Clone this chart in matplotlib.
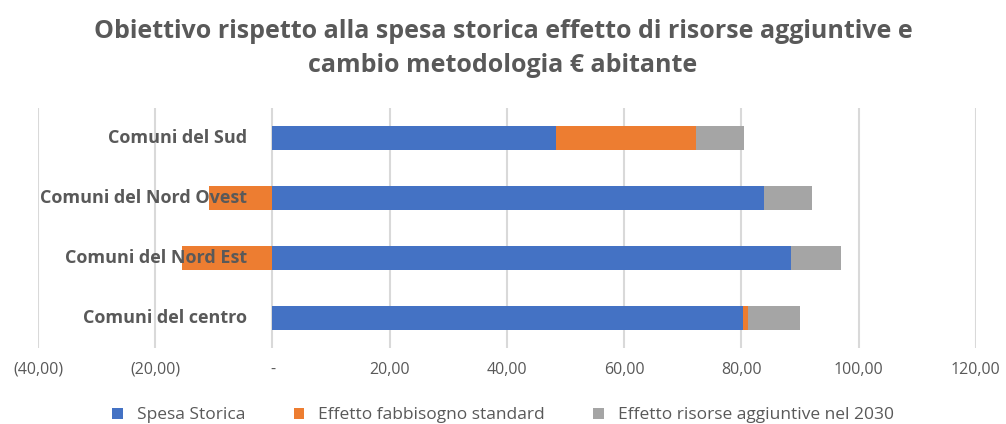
import numpy as np
import matplotlib.pyplot as plt
from matplotlib.ticker import FuncFormatter, MultipleLocator
from matplotlib.transforms import offset_copy

categories = ['Comuni del Sud', 'Comuni del Nord Ovest', 'Comuni del Nord Est', 'Comuni del centro']
spesa_storica = [48.4, 83.8, 88.5, 80.2]
effetto_fabbisogno = [23.9, -10.9, -15.5, 0.9]
effetto_risorse = [8.2, 8.2, 8.5, 8.9]

series_names = ['Spesa Storica', 'Effetto fabbisogno standard', 'Effetto risorse aggiuntive nel 2030']
colors = ['#4472C4', '#ED7D31', '#A5A5A5']
text_col = '#595959'

plt.rcParams['font.family'] = ['Open Sans', 'DejaVu Sans']

fig = plt.figure(figsize=(10.06, 4.24), dpi=100)
ax = fig.add_axes([0.0378, 0.179, 0.9322, 0.566])

y = np.arange(len(categories))
pos_base = np.zeros(len(categories))
neg_base = np.zeros(len(categories))
for vals, name, col in zip([spesa_storica, effetto_fabbisogno, effetto_risorse], series_names, colors):
    vals = np.array(vals)
    left = np.where(vals >= 0, pos_base, neg_base)
    ax.barh(y, vals, left=left, height=0.4, color=col, label=name, zorder=2)
    pos_base = pos_base + np.clip(vals, 0, None)
    neg_base = neg_base + np.clip(vals, None, 0)

ax.set_xlim(-40, 120)
ax.set_ylim(len(categories) - 0.5, -0.5)
ax.xaxis.set_major_locator(MultipleLocator(20))

def acc_fmt(v, pos):
    if abs(v) < 1e-9:
        return '-'
    s = f'{abs(v):.2f}'.replace('.', ',')
    return f'({s})' if v < 0 else s

ax.xaxis.set_major_formatter(FuncFormatter(acc_fmt))
ax.grid(axis='x', color='#D9D9D9', linewidth=1.5)
ax.set_axisbelow(True)
ax.tick_params(axis='x', length=0, pad=10, labelsize=11.5, labelcolor=text_col)
ax.set_yticks([])
for s in ax.spines.values():
    s.set_visible(False)

# category labels sit left of the zero line, over the negative bars
trans = offset_copy(ax.transData, fig=fig, x=-25, y=0, units='dots')
for i, c in enumerate(categories):
    ax.text(0, i, c, transform=trans, ha='right', va='center', fontsize=13,
            fontweight='bold', color=text_col, zorder=5)

fig.suptitle('Obiettivo rispetto alla spesa storica effetto di risorse aggiuntive e\ncambio metodologia € abitante',
             y=0.956, fontsize=18, fontweight='bold', color=text_col, linespacing=1.5)

fig.legend(loc='lower center', bbox_to_anchor=(0.5, -0.035), ncol=3, frameon=False,
           handlelength=0.6, handleheight=0.6, columnspacing=2.8, fontsize=12.5,
           labelcolor=text_col)

fig.savefig('out.png', dpi=100)
